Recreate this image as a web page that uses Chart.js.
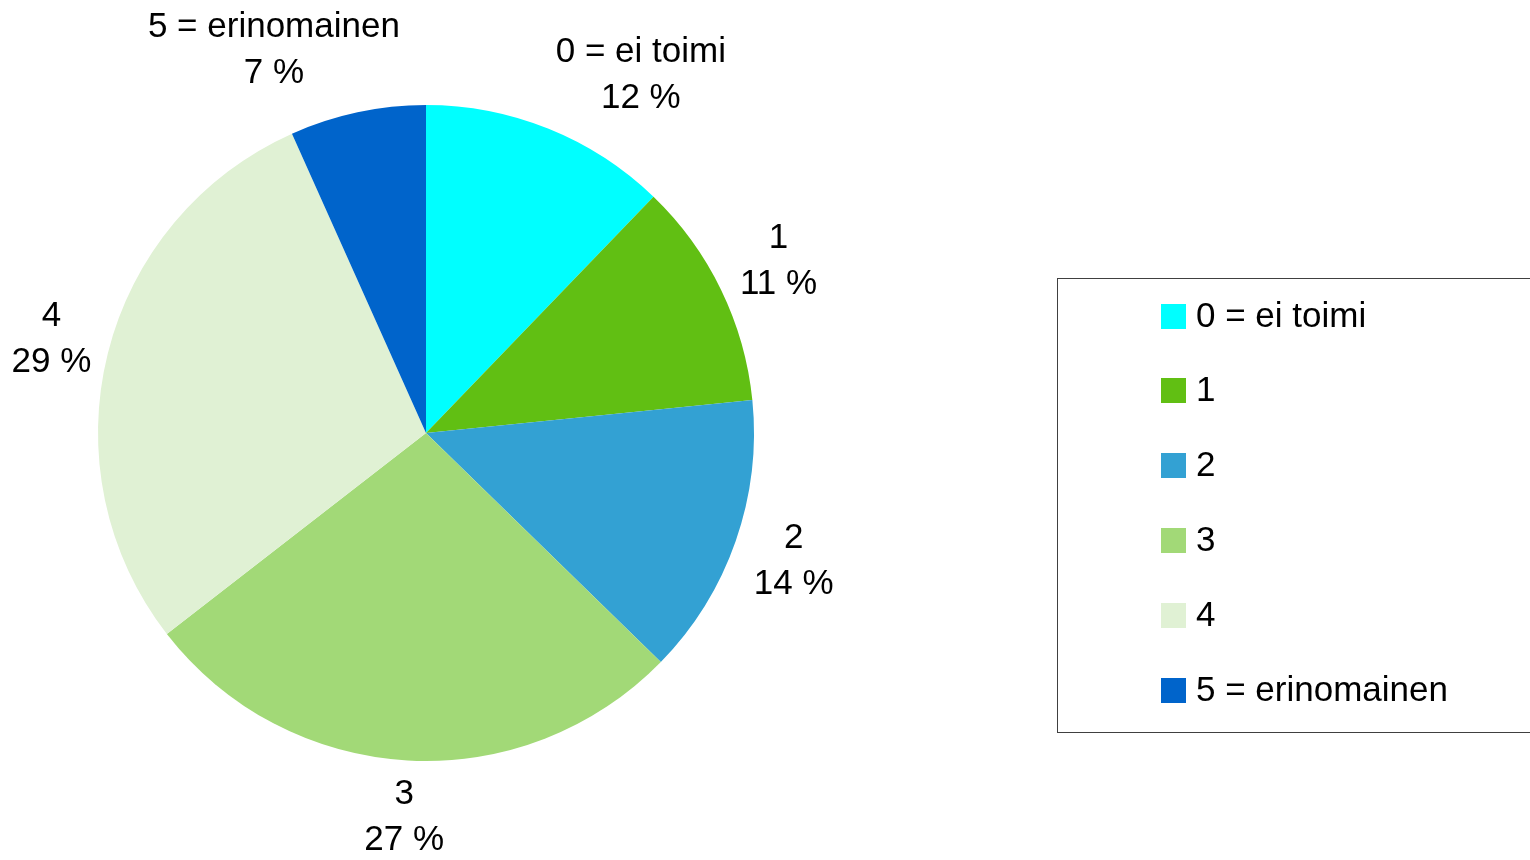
<!DOCTYPE html>
<html>
<head>
<meta charset="utf-8">
<script src="https://cdn.jsdelivr.net/npm/chart.js@4/dist/chart.umd.min.js"></script>
<style>
  html, body { margin: 0; padding: 0; background: #ffffff; }
  #wrap { width: 1530px; height: 860px; position: relative; }
</style>
</head>
<body>
<div id="wrap"><canvas id="c" width="1530" height="860"></canvas></div>
<script>
// ---- data ----
const categories = ['0 = ei toimi', '1', '2', '3', '4', '5 = erinomainen'];
const values = [12.2, 11.2, 13.9, 27.2, 28.8, 6.7];
const colors = ['#00FFFF', '#61BF13', '#33A1D3', '#A2D977', '#E0F1D4', '#0064CB'];
// label angular nudges (degrees) used by Excel-like placement near the top edge
const labelNudgeDeg = [9, 0, 0, 0, 0, -9.6];

const FONT = '35px "Liberation Sans", Arial, sans-serif';
const LINE_H = 46;

const total = values.reduce((a, b) => a + b, 0);

const outsideLabels = {
  id: 'outsideLabels',
  afterDatasetsDraw(chart, args, opts) {
    const ctx = chart.ctx;
    const meta = chart.getDatasetMeta(0);
    ctx.save();
    ctx.font = FONT;
    ctx.fillStyle = '#000000';
    ctx.textAlign = 'center';
    ctx.textBaseline = 'middle';
    meta.data.forEach((arc, i) => {
      const p = arc.getProps(['x', 'y', 'startAngle', 'endAngle', 'outerRadius'], true);
      const mid = (p.startAngle + p.endAngle) / 2 + (opts.nudge[i] || 0) * Math.PI / 180;
      const ux = Math.cos(mid), uy = Math.sin(mid);
      const lines = [chart.data.labels[i], Math.round(values[i] / total * 100) + ' %'];
      const w = Math.max(...lines.map(l => ctx.measureText(l).width));
      const h = lines.length * LINE_H;
      const hw = w / 2, hh = h / 2;
      const target = p.outerRadius + opts.gap;
      let lo = 0, hi = 2000;
      for (let k = 0; k < 60; k++) {
        const t = (lo + hi) / 2;
        const cx = t * ux, cy = t * uy;
        const dx = Math.max(Math.abs(cx) - hw, 0);
        const dy = Math.max(Math.abs(cy) - hh, 0);
        if (Math.hypot(dx, dy) < target) lo = t; else hi = t;
      }
      const cx = p.x + lo * ux, cy = p.y + lo * uy;
      lines.forEach((l, j) => {
        ctx.fillText(l, cx, cy - hh + LINE_H / 2 + j * LINE_H);
      });
    });
    ctx.restore();
  }
};

const boxLegend = {
  id: 'boxLegend',
  afterDraw(chart, args, opts) {
    const ctx = chart.ctx;
    ctx.save();
    ctx.strokeStyle = '#404040';
    ctx.lineWidth = 1;
    ctx.strokeRect(opts.left + 0.5, opts.top + 0.5, opts.right - opts.left, opts.bottom - opts.top);
    ctx.font = FONT;
    ctx.textAlign = 'left';
    ctx.textBaseline = 'middle';
    const n = chart.data.labels.length;
    chart.data.labels.forEach((lab, i) => {
      const y = opts.firstY + i * opts.rowH;
      ctx.fillStyle = chart.data.datasets[0].backgroundColor[i];
      ctx.fillRect(opts.boxX, Math.round(y - opts.box / 2), opts.box, opts.box);
      ctx.fillStyle = '#000000';
      ctx.fillText(lab, opts.textX, y + 1);
    });
    ctx.restore();
  }
};

new Chart(document.getElementById('c'), {
  type: 'pie',
  data: {
    labels: categories,
    datasets: [{
      data: values,
      backgroundColor: colors,
      borderWidth: 0,
      hoverOffset: 0
    }]
  },
  options: {
    responsive: false,
    animation: false,
    devicePixelRatio: 1,
    layout: { padding: { left: 98, right: 776, top: 105, bottom: 99 } },
    plugins: {
      legend: { display: false },
      tooltip: { enabled: false },
      outsideLabels: { gap: 10, nudge: labelNudgeDeg },
      boxLegend: { left: 1057, top: 278, right: 1540, bottom: 732, firstY: 316, rowH: 74.8, box: 25, boxX: 1161, textX: 1196 }
    }
  },
  plugins: [outsideLabels, boxLegend]
});
</script>
</body>
</html>
